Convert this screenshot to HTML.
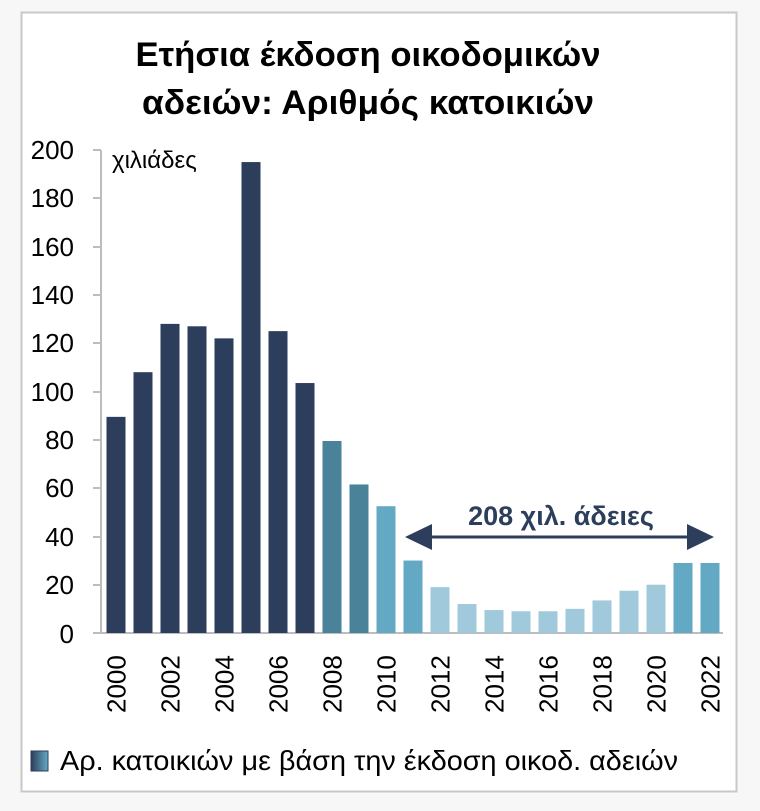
<!DOCTYPE html><html><head><meta charset="utf-8"><style>
body{margin:0;background:#f7f7f7;width:760px;height:811px;overflow:hidden}
svg{display:block}
text{font-family:"Liberation Sans","DejaVu Sans",sans-serif}
</style></head><body>
<svg width="760" height="811" viewBox="0 0 760 811">
<defs><linearGradient id="lg" x1="0" x2="1"><stop offset="0" stop-color="#2c3e5b"/><stop offset="1" stop-color="#64a9c4"/></linearGradient></defs>
<rect x="21.5" y="12.5" width="715" height="779" fill="#fff" stroke="#c8c8c8" stroke-width="2"/>
<text x="368" y="66" text-anchor="middle" font-size="34" font-weight="bold" fill="#000" textLength="465" lengthAdjust="spacingAndGlyphs">Ετήσια έκδοση οικοδομικών</text>
<text x="368" y="114" text-anchor="middle" font-size="34" font-weight="bold" fill="#000" textLength="452" lengthAdjust="spacingAndGlyphs">αδειών: Αριθμός κατοικιών</text>
<g stroke="#bdbdbd" stroke-width="2">
<line x1="101" y1="150" x2="101" y2="633"/>
<line x1="93" y1="633" x2="723" y2="633"/>
<line x1="93" y1="150" x2="101" y2="150"/><line x1="93" y1="198" x2="101" y2="198"/><line x1="93" y1="247" x2="101" y2="247"/><line x1="93" y1="295" x2="101" y2="295"/><line x1="93" y1="343" x2="101" y2="343"/><line x1="93" y1="392" x2="101" y2="392"/><line x1="93" y1="440" x2="101" y2="440"/><line x1="93" y1="488" x2="101" y2="488"/><line x1="93" y1="537" x2="101" y2="537"/><line x1="93" y1="585" x2="101" y2="585"/>
</g>
<g font-size="26" fill="#000" text-anchor="end">
<text x="74" y="159">200</text><text x="74" y="207">180</text><text x="74" y="256">160</text><text x="74" y="304">140</text><text x="74" y="352">120</text><text x="74" y="401">100</text><text x="74" y="449">80</text><text x="74" y="497">60</text><text x="74" y="546">40</text><text x="74" y="594">20</text><text x="74" y="643">0</text>
</g>
<text x="112" y="168" font-size="24" fill="#000">χιλιάδες</text>
<g id="bars"></g>
<g id="years" font-size="26" fill="#000"></g>
<line x1="425" y1="537" x2="693" y2="537" stroke="#2c3e5b" stroke-width="3"/>
<polygon points="405,537 432,524 432,550" fill="#2c3e5b"/>
<polygon points="714,537 687,524 687,550" fill="#2c3e5b"/>
<text x="561" y="525" text-anchor="middle" font-size="27" font-weight="bold" fill="#2c3e5b">208 χιλ. άδειες</text>
<rect x="31" y="751" width="17" height="20" fill="url(#lg)" stroke="#2c3e5b" stroke-width="1"/>
<text x="60" y="770" font-size="28" fill="#000" textLength="618" lengthAdjust="spacingAndGlyphs">Αρ. κατοικιών με βάση την έκδοση οικοδ. αδειών</text>
</svg>
<script>
var v=[89.5,108,128,127,122,195,125,103.5,79.5,61.5,52.5,30,19,12,9.5,9,9,10,13.5,17.5,20,29,29];
var c=[];for(var i=0;i<23;i++){c.push(i<8?'#2c3e5b':i<10?'#4a8299':(i<12||i>20)?'#64a9c4':'#a0cadb');}
var b='',y='';
for(var i=0;i<23;i++){var cx=116+i*27,h=v[i]*2.415;
b+='<rect x="'+(cx-9.5)+'" y="'+(633-h)+'" width="19" height="'+h+'" fill="'+c[i]+'"/>';
if(i%2==0)y+='<text transform="translate('+(cx+9.5)+',713) rotate(-90)">'+(2000+i)+'</text>';}
document.getElementById('bars').innerHTML=b;document.getElementById('years').innerHTML=y;
</script>
</body></html>
